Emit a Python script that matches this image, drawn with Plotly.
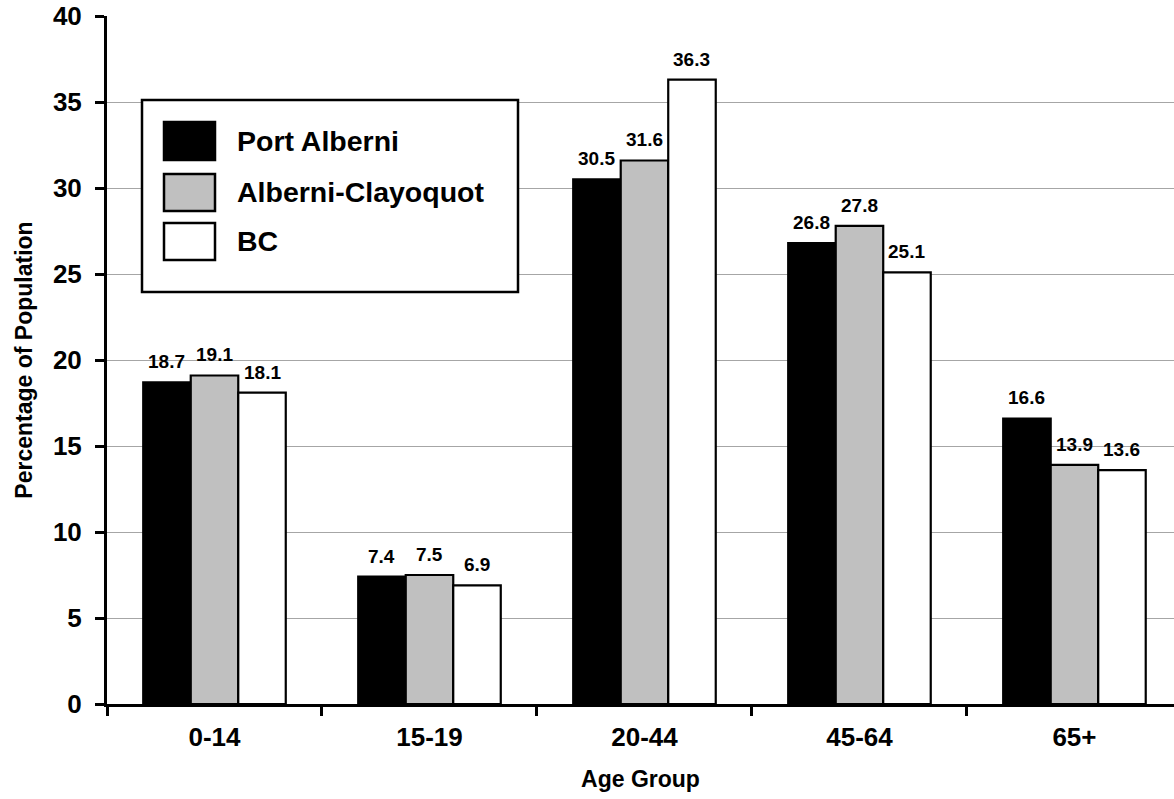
import plotly.graph_objects as go

# Age distribution, percentage of population
age_groups = ["0-14", "15-19", "20-44", "45-64", "65+"]
series_names = ["Port Alberni", "Alberni-Clayoquot", "BC"]
port_alberni = [18.7, 7.4, 30.5, 26.8, 16.6]
alberni_clayoquot = [19.1, 7.5, 31.6, 27.8, 13.9]
bc = [18.1, 6.9, 36.3, 25.1, 13.6]
y_ticks = [0, 5, 10, 15, 20, 25, 30, 35, 40]

series_values = [port_alberni, alberni_clayoquot, bc]
fills = ["#000000", "#c0c0c0", "#ffffff"]

FONT = "Liberation Sans, Arial, Helvetica, sans-serif"
W, H = 1174, 799
M_L, M_R, M_T, M_B = 107, 0, 16, 95
PLOT_W = W - M_L - M_R
PLOT_H = H - M_T - M_B
X_RANGE = [-0.5, 4.463]
BARGAP = 0.337

fig = go.Figure()
for name, vals, col in zip(series_names, series_values, fills):
    fig.add_trace(go.Bar(
        x=age_groups, y=vals, name=name,
        marker=dict(color=col, line=dict(color="#000000", width=2.2)),
        showlegend=False,
    ))

# value labels above each bar
bar_px = PLOT_W / (X_RANGE[1] - X_RANGE[0]) * (1 - BARGAP) / len(series_names)
annotations = []
for i, vals in enumerate(series_values):
    for cat, v in zip(age_groups, vals):
        annotations.append(dict(
            x=cat, y=v, xref="x", yref="y", text=f"{v:.1f}",
            showarrow=False, yanchor="bottom", xanchor="center",
            xshift=(i - (len(series_names) - 1) / 2) * bar_px, yshift=8,
            font=dict(family=FONT, size=19, color="#000000", weight="bold"),
        ))

# legend box drawn in pixel space
def px_x(p):
    return (p - M_L) / PLOT_W

def px_y(p):
    return (H - M_B - p) / PLOT_H

shapes = [dict(type="rect", xref="paper", yref="paper",
               x0=px_x(142), x1=px_x(518), y0=px_y(292), y1=px_y(100),
               line=dict(color="#000000", width=2.5), fillcolor="#ffffff", layer="above")]
rows = [(122, 160), (174, 211), (223, 260)]
for (top, bot), name, col in zip(rows, series_names, fills):
    shapes.append(dict(type="rect", xref="paper", yref="paper",
                       x0=px_x(164), x1=px_x(215), y0=px_y(bot), y1=px_y(top),
                       line=dict(color="#000000", width=2.5), fillcolor=col, layer="above"))
    annotations.append(dict(
        x=px_x(235), y=px_y((top + bot) / 2), xref="paper", yref="paper",
        text=name, showarrow=False, xanchor="left", yanchor="middle",
        font=dict(family=FONT, size=28.5, color="#000000", weight="bold"),
    ))

fig.update_layout(
    width=W, height=H,
    margin=dict(l=M_L, r=M_R, t=M_T, b=M_B, pad=0),
    paper_bgcolor="#ffffff", plot_bgcolor="#ffffff",
    barmode="group", bargap=BARGAP, bargroupgap=0,
    font=dict(family=FONT, color="#000000"),
    shapes=shapes, annotations=annotations,
    xaxis=dict(
        type="category", range=X_RANGE, tickson="boundaries",
        ticks="outside", ticklen=9, tickwidth=2.5, tickcolor="#000000",
        showline=True, linecolor="#000000", linewidth=3,
        showgrid=False, zeroline=False,
        tickfont=dict(family=FONT, size=26, color="#000000", weight="bold"),
        ticklabelstandoff=8,
        title=dict(text="Age Group", standoff=20,
                   font=dict(family=FONT, size=23, color="#000000", weight="bold")),
    ),
    yaxis=dict(
        range=[0, 40], tickvals=y_ticks,
        ticks="outside", ticklen=9, tickwidth=2.5, tickcolor="#000000",
        showline=True, linecolor="#000000", linewidth=3,
        showgrid=True, gridcolor="#a6a6a6", gridwidth=1.3,
        zeroline=False,
        tickfont=dict(family=FONT, size=26, color="#000000", weight="bold"),
        ticklabelstandoff=8,
        title=dict(text="Percentage of Population", standoff=14,
                   font=dict(family=FONT, size=23, color="#000000", weight="bold")),
    ),
)

fig.write_html("out.html")
